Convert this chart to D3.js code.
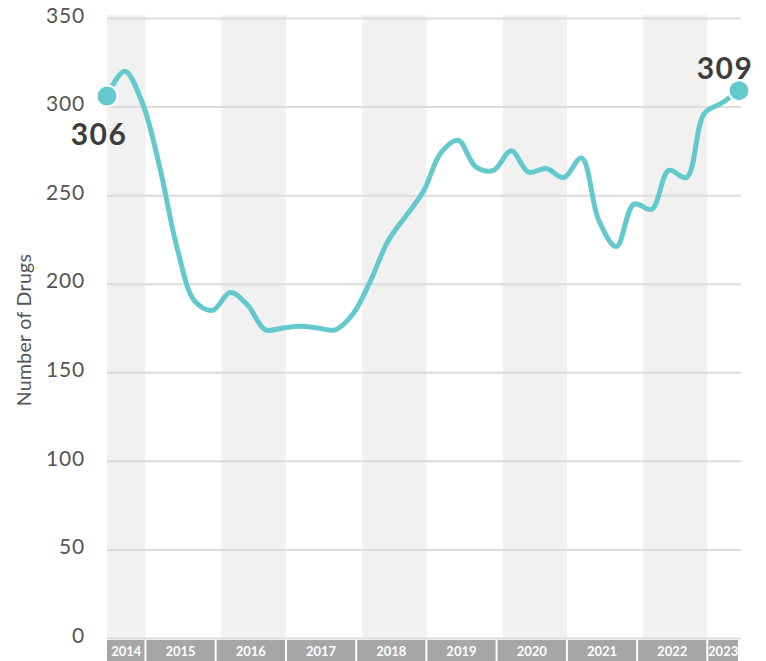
<!DOCTYPE html>
<html>
<head>
<meta charset="utf-8">
<script src="https://cdn.jsdelivr.net/npm/d3@7"></script>
<style>
  body { margin: 0; background: #fff; }
  svg { display: block; font-family: Lato, "Open Sans", sans-serif; }
</style>
</head>
<body>
<div id="chart"></div>
<script>
// quarterly counts, mid-month
const quarters = [
  "2014-05", "2014-08", "2014-11",
  "2015-02", "2015-05", "2015-08", "2015-11",
  "2016-02", "2016-05", "2016-08", "2016-11",
  "2017-02", "2017-05", "2017-08", "2017-11",
  "2018-02", "2018-05", "2018-08", "2018-11",
  "2019-02", "2019-05", "2019-08", "2019-11",
  "2020-02", "2020-05", "2020-08", "2020-11",
  "2021-02", "2021-05", "2021-08", "2021-11",
  "2022-02", "2022-05", "2022-08", "2022-11",
  "2023-02", "2023-05"
];
const drugCounts = [
  306, 320, 302,
  265, 220, 190, 185,
  195, 188, 174, 175,
  176, 175, 174, 183,
  202, 224, 238, 252,
  274, 281, 266, 264,
  275, 263, 265, 260,
  271, 236, 221, 245,
  242, 264, 260, 296,
  302, 309
];
const years = [2014, 2015, 2016, 2017, 2018, 2019, 2020, 2021, 2022, 2023];
const yTicks = [0, 50, 100, 150, 200, 250, 300, 350];

const width = 766;
const height = 661;
const margin = { top: 18, right: 27, bottom: 23, left: 107 };

const parse = d3.timeParse("%Y-%m-%d");
const data = quarters.map((q, i) => ({ date: parse(q + "-15"), value: drugCounts[i] }));

const svg = d3.select("#chart").append("svg")
  .attr("width", width)
  .attr("height", height);

const x = d3.scaleTime()
  .domain(d3.extent(data, (d) => d.date))
  .range([margin.left, width - margin.right]);

const y = d3.scaleLinear()
  .domain([0, 350])
  .range([height - margin.bottom, margin.top]);

const x0 = x.range()[0];
const x1 = x.range()[1];
const clampX = (v) => Math.max(x0, Math.min(x1, v));

// alternating year bands
svg.append("g")
  .selectAll("rect")
  .data(years.filter((yr) => yr % 2 === 0))
  .join("rect")
  .attr("x", (yr) => clampX(x(new Date(yr, 0, 1))))
  .attr("width", (yr) => clampX(x(new Date(yr, 11, 1))) - clampX(x(new Date(yr, 0, 1))))
  .attr("y", y(350) - 3)
  .attr("height", y(0) - y(350) + 3)
  .attr("fill", "#f1f1f1");

// grid + y labels
const yAxis = svg.append("g")
  .attr("transform", `translate(${x0},0)`)
  .call(d3.axisLeft(y).tickValues(yTicks).tickSize(-(x1 - x0 + 2)).tickPadding(22));
yAxis.select(".domain").remove();
yAxis.selectAll(".tick line").attr("stroke", "#dcdcdc").attr("stroke-width", 2);
yAxis.selectAll(".tick text")
  .attr("fill", "#555")
  .style("font-size", "21px")
  .style("font-family", "Lato, sans-serif")
  .attr("letter-spacing", "0.8px")
  .attr("dy", "0.2em");

svg.append("text")
  .attr("transform", `translate(31,${(y(0) + y(350)) / 2 + 2}) rotate(-90)`)
  .attr("text-anchor", "middle")
  .attr("fill", "#555")
  .style("font-size", "19.5px")
  .attr("letter-spacing", "0.3px")
  .text("Number of Drugs");

// year boxes along the bottom
const boxStart = (yr) => clampX(x(new Date(yr - 1, 11, 1)));
const boxEnd = (yr) => clampX(x(new Date(yr, 11, 1)));
const boxes = svg.append("g").selectAll("g")
  .data(years)
  .join("g");
boxes.append("rect")
  .attr("x", (yr) => (yr === years[0] ? boxStart(yr) : boxStart(yr) + 1))
  .attr("width", (yr) => boxEnd(yr) - boxStart(yr) - (yr === years[0] ? 1 : 2))
  .attr("y", y(0) + 2)
  .attr("height", 21)
  .attr("fill", "#a6a6a6");
boxes.append("text")
  .attr("x", (yr) => (boxStart(yr) + boxEnd(yr)) / 2)
  .attr("y", y(0) + 18)
  .attr("text-anchor", "middle")
  .attr("fill", "#fff")
  .style("font-size", "13px")
  .style("font-weight", "bold")
  .text((yr) => yr);

// the line
const line = d3.line()
  .x((d) => x(d.date))
  .y((d) => y(d.value))
  .curve(d3.curveCatmullRom.alpha(0.5));

svg.append("path")
  .datum(data)
  .attr("fill", "none")
  .attr("stroke", "#63c9cc")
  .attr("stroke-width", 5)
  .attr("stroke-linecap", "round")
  .attr("d", line);

// end points
const ends = [data[0], data[data.length - 1]];
svg.selectAll(".end-dot")
  .data(ends)
  .join("circle")
  .attr("class", "end-dot")
  .attr("cx", (d) => x(d.date))
  .attr("cy", (d) => y(d.value))
  .attr("r", 10.5)
  .attr("fill", "#63c9cc")
  .attr("stroke", "#fff")
  .attr("stroke-width", 2);

svg.append("text")
  .attr("x", x(ends[0].date) - 8)
  .attr("y", y(ends[0].value) + 49)
  .attr("text-anchor", "middle")
  .attr("fill", "#3d3d3d")
  .style("font-size", "30px")
  .style("font-weight", "bold")
  .attr("letter-spacing", "1.5px")
  .text(ends[0].value);

svg.append("text")
  .attr("x", x(ends[1].date) - 14)
  .attr("y", y(ends[1].value) - 12)
  .attr("text-anchor", "middle")
  .attr("fill", "#3d3d3d")
  .style("font-size", "30px")
  .style("font-weight", "bold")
  .attr("letter-spacing", "1.5px")
  .text(ends[1].value);
</script>
</body>
</html>
